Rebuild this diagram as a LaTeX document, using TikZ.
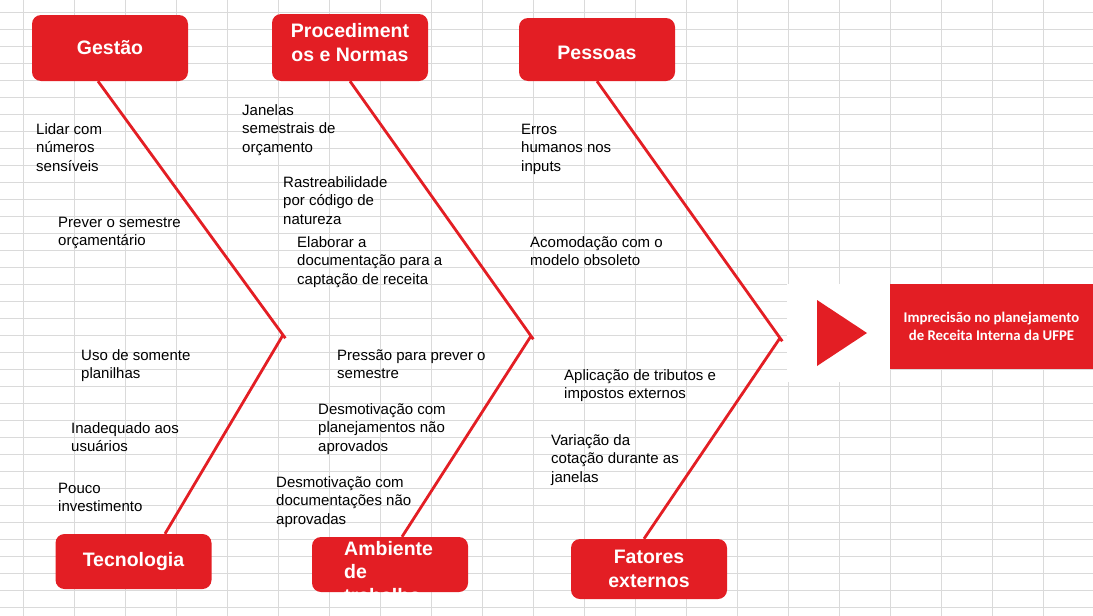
\documentclass[tikz,border=0pt]{standalone}
\usepackage{fontspec}
\setmainfont{Liberation Sans}
\newfontfamily\calibri{Carlito}
\usetikzlibrary{positioning}
\definecolor{fishred}{RGB}{227,30,36}
\definecolor{gridgray}{RGB}{218,218,218}

\begin{document}
\begin{tikzpicture}[x=1pt, y=-1pt,
  cause/.style={fill=fishred, rounded corners=9pt, minimum width=156pt, inner sep=0pt, text=white, align=center, font=\bfseries\fontsize{19.5}{23.5}\selectfont},
  note/.style={anchor=base west, align=left, inner sep=0pt, font=\fontsize{15}{18.5}\selectfont},
  bone/.style={draw=fishred, line width=2.8pt}]
\useasboundingbox (0,0) rectangle (1093,616);

% sheet grid
\foreach \gx in {0,...,20}
  \draw[gridgray, line width=1pt] (23.3+51*\gx,0) -- (23.3+51*\gx,616);
\foreach \gy in {0,...,35}
  \draw[gridgray, line width=1pt] (0,12.3+17*\gy) -- (1093,12.3+17*\gy);
\fill[white] (787,283.5) rectangle (890,382);

% causes
\node[cause, minimum height=66pt] (gestao) at (110,48) {Gestão};
\node[cause, minimum height=67pt, text depth=10pt] (proc) at (350,47.5) {Procediment\\os e Normas};
\node[cause, minimum height=63pt, text height=21pt] (pessoas) at (597,49.5) {Pessoas};
\node[cause, minimum height=55pt] (tecno) at (133.5,561.5) {Tecnologia};
\node[cause, minimum height=55pt] (ambiente) at (390,564.5) {};
\node[cause, minimum height=60pt] (fatores) at (649,569) {Fatores\\externos};
\begin{scope}
\clip (ambiente.south west) rectangle (ambiente.north east);
\node[anchor=west, inner sep=0pt, text=white, align=left, font=\bfseries\fontsize{19.5}{23.5}\selectfont] (ambtxt) at (344,572) {Ambiente\\de\\trabalho};
\end{scope}

% effect
\fill[fishred] (817,300) -- (867,333) -- (817,366) -- cycle;
\node[fill=fishred, minimum width=203pt, minimum height=85pt, inner sep=0pt, text=white, align=center, font=\calibri\bfseries\fontsize{14.8}{18}\selectfont] (efeito) at (991.5,326.5) {Imprecisão no planejamento\\de Receita Interna da UFPE};

% bones
\coordinate (j1) at (283,335);
\coordinate (j2) at (531,336);
\coordinate (j3) at (780,338);
\draw[bone, shorten >=-4pt] ([xshift=-12pt]gestao.south) -- (j1);
\draw[bone] ([xshift=31.5pt]tecno.north) -- (j1);
\draw[bone, shorten >=-4pt] (proc.south) -- (j2);
\draw[bone] ([xshift=12pt]ambiente.north) -- (j2);
\draw[bone, shorten >=-4pt] (pessoas.south) -- (j3);
\draw[bone] ([xshift=-5pt]fatores.north) -- (j3);

% sub causes (placed at the baseline of their last line)
\node[note] (lidar) at (36,171) {Lidar com\\números\\sensíveis};
\node[note] (prever) at (58,245.5) {Prever o semestre\\orçamentário};
\node[note] (janelas) at (242,152) {Janelas\\semestrais de\\orçamento};
\node[note] (rastreio) at (283,224) {Rastreabilidade\\por código de\\natureza};
\node[note] (elaborar) at (297,284) {Elaborar a\\documentação para a\\captação de receita};
\node[note] (planilhas) at (81,378.5) {Uso de somente\\planilhas};
\node[note] (inadequado) at (71,451.5) {Inadequado aos\\usuários};
\node[note] (pouco) at (58,511.5) {Pouco\\investimento};
\node[note] (pressao) at (337,378.5) {Pressão para prever o\\semestre};
\node[note] (desmplan) at (318,451) {Desmotivação com\\planejamentos não\\aprovados};
\node[note] (desmdoc) at (276,524) {Desmotivação com\\documentações não\\aprovadas};
\node[note] (erros) at (521,171) {Erros\\humanos nos\\inputs};
\node[note] (acomod) at (530,265.5) {Acomodação com o\\modelo obsoleto};
\node[note] (tributos) at (564,398.5) {Aplicação de tributos e\\impostos externos};
\node[note] (variacao) at (551,482) {Variação da\\cotação durante as\\janelas};
\end{tikzpicture}
\end{document}
